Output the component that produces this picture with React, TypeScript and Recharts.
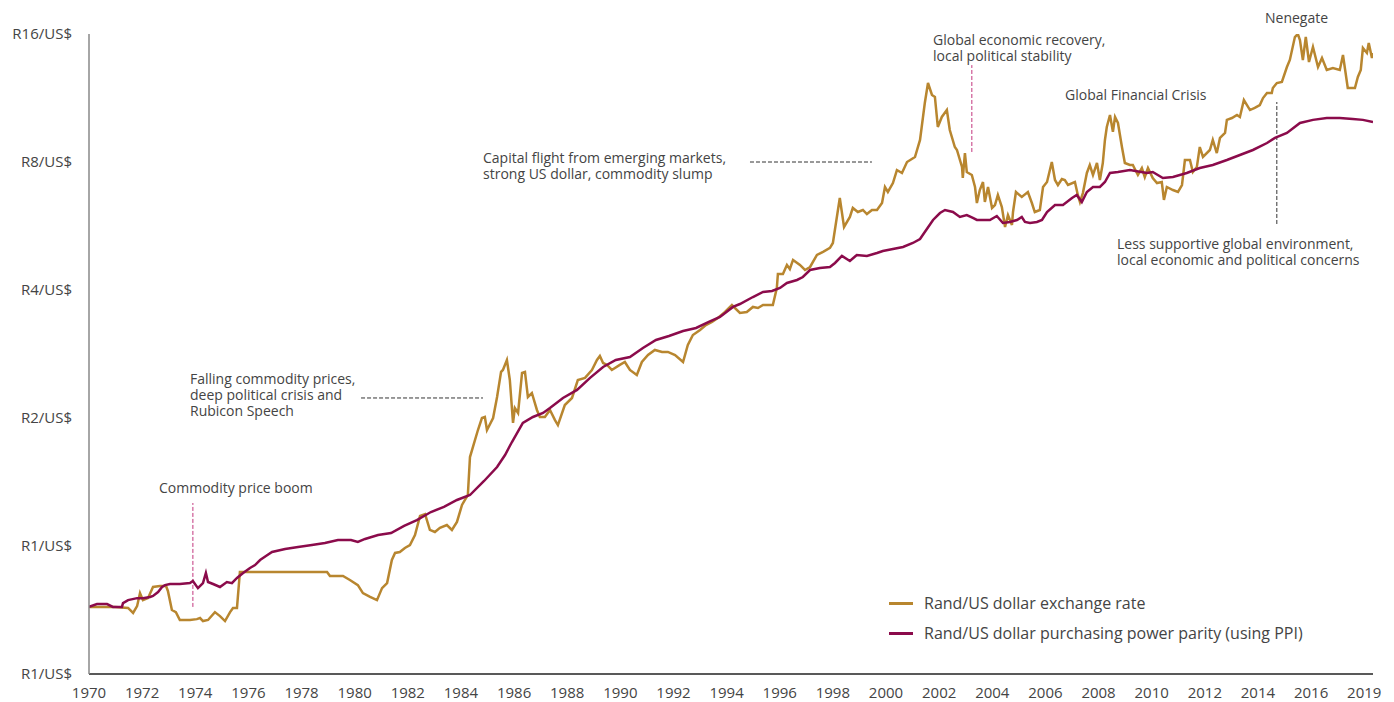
import { Legend, Line, LineChart, ReferenceLine, XAxis, YAxis } from 'recharts'

// [decimal year, rand per US dollar]
const exchangeRate: [number, number][] = [
  [1970.0, 0.719], [1970.41, 0.719], [1970.98, 0.719], [1971.47, 0.715], [1971.66, 0.696], [1971.81, 0.722],
  [1971.92, 0.775], [1972.03, 0.746], [1972.22, 0.754], [1972.41, 0.801], [1972.67, 0.805], [1972.9, 0.805],
  [1972.97, 0.784], [1973.12, 0.707], [1973.27, 0.699], [1973.42, 0.67], [1973.8, 0.67], [1974.06, 0.673],
  [1974.18, 0.677], [1974.29, 0.666], [1974.48, 0.67], [1974.74, 0.699], [1974.93, 0.684], [1975.12, 0.666],
  [1975.31, 0.699], [1975.42, 0.715], [1975.57, 0.715], [1975.68, 0.869], [1976.81, 0.869], [1977.94, 0.869],
  [1978.96, 0.869], [1979.07, 0.85], [1979.56, 0.85], [1979.82, 0.832], [1980.12, 0.809], [1980.31, 0.775],
  [1980.58, 0.759], [1980.84, 0.746], [1981.03, 0.796], [1981.22, 0.818], [1981.4, 0.927], [1981.52, 0.963],
  [1981.7, 0.968], [1981.89, 0.989], [1982.08, 1.005], [1982.27, 1.061], [1982.46, 1.177], [1982.65, 1.189],
  [1982.83, 1.091], [1983.02, 1.079], [1983.21, 1.103], [1983.47, 1.12], [1983.66, 1.091], [1983.85, 1.139],
  [1984.04, 1.249], [1984.15, 1.283], [1984.26, 1.318], [1984.34, 1.619], [1984.45, 1.709], [1984.64, 1.874],
  [1984.79, 2.0], [1984.9, 2.011], [1984.98, 1.874], [1985.21, 2.0], [1985.36, 2.241], [1985.51, 2.567],
  [1985.58, 2.594], [1985.73, 2.738], [1985.84, 2.457], [1985.96, 1.947], [1986.03, 2.111], [1986.15, 2.055],
  [1986.3, 2.553], [1986.41, 2.567], [1986.52, 2.241], [1986.67, 2.29], [1986.86, 2.089], [1986.97, 2.011],
  [1987.16, 2.011], [1987.35, 2.089], [1987.54, 1.978], [1987.65, 1.925], [1987.91, 2.146], [1988.18, 2.229],
  [1988.4, 2.457], [1988.67, 2.485], [1988.93, 2.594], [1989.12, 2.738], [1989.23, 2.799], [1989.35, 2.694],
  [1989.5, 2.666], [1989.68, 2.594], [1989.98, 2.666], [1990.17, 2.709], [1990.36, 2.594], [1990.62, 2.525],
  [1990.81, 2.709], [1991.04, 2.813], [1991.3, 2.891], [1991.57, 2.86], [1991.79, 2.86], [1992.06, 2.813],
  [1992.36, 2.709], [1992.54, 2.97], [1992.73, 3.135], [1993.0, 3.221], [1993.22, 3.309], [1993.45, 3.364],
  [1993.67, 3.437], [1993.94, 3.551], [1994.2, 3.688], [1994.5, 3.532], [1994.76, 3.551], [1994.99, 3.649],
  [1995.18, 3.628], [1995.37, 3.688], [1995.74, 3.688], [1995.89, 4.044], [1995.93, 4.362], [1996.12, 4.362],
  [1996.27, 4.581], [1996.38, 4.482], [1996.5, 4.708], [1996.76, 4.581], [1996.95, 4.458], [1997.14, 4.531],
  [1997.4, 4.836], [1997.63, 4.919], [1997.89, 5.023], [1998.0, 5.16], [1998.15, 5.94], [1998.26, 6.584],
  [1998.42, 5.627], [1998.64, 5.94], [1998.75, 6.237], [1998.94, 6.102], [1999.13, 6.169], [1999.28, 6.036],
  [1999.47, 6.169], [1999.66, 6.169], [1999.85, 6.407], [1999.96, 6.987], [2000.07, 6.801], [2000.26, 7.14],
  [2000.41, 7.66], [2000.6, 7.539], [2000.79, 8.0], [2001.09, 8.22], [2001.28, 9.014], [2001.46, 11.01],
  [2001.58, 12.27], [2001.73, 11.5], [2001.84, 11.38], [2001.95, 9.671], [2002.1, 10.21], [2002.29, 10.6],
  [2002.4, 9.514], [2002.59, 8.676], [2002.67, 8.538], [2002.86, 7.786], [2002.89, 7.336], [2002.97, 8.399],
  [2003.04, 7.579], [2003.23, 7.457], [2003.35, 6.987], [2003.42, 6.407], [2003.53, 6.874], [2003.65, 7.179],
  [2003.72, 6.442], [2003.84, 6.987], [2003.99, 6.237], [2004.1, 6.338], [2004.21, 6.692], [2004.36, 6.27],
  [2004.48, 5.627], [2004.59, 6.003], [2004.74, 5.688], [2004.78, 6.102], [2004.89, 6.801], [2005.11, 6.621],
  [2005.34, 6.801], [2005.49, 6.407], [2005.6, 6.102], [2005.79, 6.169], [2005.91, 6.987], [2006.06, 7.179],
  [2006.24, 8.0], [2006.36, 7.258], [2006.47, 7.063], [2006.62, 7.298], [2006.73, 7.258], [2006.85, 7.063],
  [2007.11, 7.179], [2007.22, 6.692], [2007.3, 6.442], [2007.41, 6.761], [2007.56, 7.539], [2007.67, 7.87],
  [2007.79, 7.457], [2007.94, 7.957], [2008.05, 7.258], [2008.16, 7.957], [2008.24, 9.014],
  [2008.31, 9.671], [2008.43, 10.32], [2008.54, 9.416], [2008.62, 10.21], [2008.73, 9.884],
  [2008.88, 8.676], [2008.99, 7.957], [2009.18, 7.87], [2009.29, 7.87], [2009.48, 7.457], [2009.63, 7.744],
  [2009.74, 7.376], [2009.86, 7.744], [2010.04, 7.336], [2010.2, 7.14], [2010.38, 7.179], [2010.46, 6.513],
  [2010.57, 6.987], [2010.8, 6.874], [2010.99, 6.801], [2011.14, 7.063], [2011.25, 8.087], [2011.44, 8.087],
  [2011.55, 7.579], [2011.7, 7.786], [2011.81, 8.676], [2011.93, 8.22], [2012.19, 8.538], [2012.3, 9.014],
  [2012.45, 8.399], [2012.57, 9.113], [2012.76, 9.36], [2012.83, 10.05], [2013.02, 10.15], [2013.21, 10.32],
  [2013.32, 10.21], [2013.47, 11.19], [2013.7, 10.6], [2013.88, 10.72], [2014.07, 10.89], [2014.19, 11.31],
  [2014.34, 11.63], [2014.52, 11.63], [2014.56, 11.94], [2014.71, 12.27], [2014.9, 12.34], [2015.09, 13.38],
  [2015.2, 13.9], [2015.39, 15.74], [2015.5, 16.0], [2015.58, 15.49], [2015.69, 13.9], [2015.8, 15.74],
  [2015.92, 13.75], [2016.07, 14.91], [2016.26, 13.38], [2016.41, 14.05], [2016.59, 13.17], [2016.82, 13.31],
  [2017.08, 13.17], [2017.2, 14.28], [2017.38, 11.94], [2017.65, 11.94], [2017.76, 12.68], [2017.87, 13.17],
  [2017.95, 14.83], [2018.1, 14.44], [2018.17, 15.24], [2018.29, 14.05], [2018.33, 14.44],
]

// [decimal year, PPP rand per US dollar (PPI based)]
const ppp: [number, number][] = [
  [1970.0, 0.719], [1970.3, 0.73], [1970.68, 0.73], [1970.9, 0.719], [1971.24, 0.719], [1971.28, 0.734],
  [1971.47, 0.746], [1971.81, 0.754], [1972.03, 0.754], [1972.3, 0.759], [1972.41, 0.763], [1972.6, 0.779],
  [1972.75, 0.801], [1972.86, 0.809], [1973.05, 0.814], [1973.42, 0.814], [1973.8, 0.818], [1973.91, 0.827],
  [1974.1, 0.796], [1974.29, 0.818], [1974.4, 0.864], [1974.48, 0.823], [1974.67, 0.814], [1974.93, 0.801],
  [1975.19, 0.823], [1975.38, 0.818], [1975.57, 0.841], [1975.8, 0.864], [1976.06, 0.888], [1976.25, 0.902],
  [1976.44, 0.927], [1976.66, 0.947], [1976.89, 0.968], [1977.38, 0.984], [1977.87, 0.995], [1978.39, 1.005],
  [1978.88, 1.016], [1979.37, 1.033], [1979.86, 1.033], [1980.12, 1.022], [1980.39, 1.039], [1980.88, 1.061],
  [1981.37, 1.073], [1981.86, 1.115], [1982.34, 1.151], [1982.87, 1.202], [1983.36, 1.236], [1983.85, 1.283],
  [1984.34, 1.318], [1984.87, 1.422], [1985.36, 1.534], [1985.66, 1.637], [1985.92, 1.756], [1986.33, 1.947],
  [1986.71, 2.011], [1987.09, 2.055], [1987.35, 2.111], [1987.84, 2.229], [1988.37, 2.328], [1988.86, 2.485],
  [1989.35, 2.636], [1989.83, 2.738], [1990.36, 2.783], [1990.85, 2.922], [1991.34, 3.051], [1991.83, 3.118],
  [1992.36, 3.204], [1992.85, 3.256], [1993.33, 3.364], [1993.75, 3.456], [1994.24, 3.649], [1994.5, 3.708],
  [1994.99, 3.851], [1995.37, 3.957], [1995.71, 3.978], [1996.01, 4.044], [1996.27, 4.155], [1996.65, 4.223],
  [1996.87, 4.292], [1997.14, 4.458], [1997.51, 4.507], [1997.89, 4.531], [1998.08, 4.631], [1998.34, 4.81],
  [1998.64, 4.681], [1998.9, 4.836], [1999.28, 4.81], [1999.66, 4.888], [1999.88, 4.942], [2000.26, 4.996],
  [2000.64, 5.05], [2001.01, 5.16], [2001.28, 5.273], [2001.46, 5.477], [2001.77, 5.844], [2002.03, 6.068],
  [2002.22, 6.169], [2002.52, 6.102], [2002.78, 5.94], [2003.04, 6.003], [2003.27, 5.908], [2003.42, 5.844],
  [2003.91, 5.844], [2004.17, 5.972], [2004.4, 5.75], [2004.66, 5.781], [2004.93, 5.844], [2005.11, 5.94],
  [2005.23, 5.781], [2005.42, 5.75], [2005.68, 5.781], [2005.87, 5.844], [2006.06, 6.102], [2006.36, 6.338],
  [2006.66, 6.338], [2007.0, 6.584], [2007.18, 6.692], [2007.37, 6.442], [2007.56, 6.801], [2007.79, 6.987],
  [2008.05, 6.987], [2008.24, 7.179], [2008.43, 7.539], [2008.73, 7.579], [2009.18, 7.66], [2009.82, 7.539],
  [2010.04, 7.579], [2010.42, 7.336], [2010.8, 7.376], [2011.32, 7.539], [2011.81, 7.744], [2012.3, 7.87],
  [2012.83, 8.087], [2013.32, 8.309], [2013.81, 8.538], [2014.34, 8.867], [2014.64, 9.113], [2015.09, 9.36],
  [2015.58, 9.884], [2016.07, 10.05], [2016.59, 10.15], [2017.08, 10.15], [2017.57, 10.1], [2017.95, 10.05],
  [2018.33, 9.938],
]

const xTicks = [1970, 1972, 1974, 1976, 1978, 1980, 1982, 1984, 1986, 1988, 1990, 1992, 1994, 1996, 1998, 2000, 2002, 2004, 2006, 2008, 2010, 2012, 2014, 2016, 2018]
const xTickLabels = ['1970', '1972', '1974', '1976', '1978', '1980', '1982', '1984', '1986', '1988', '1990', '1992', '1994', '1996', '1998', '2000', '2002', '2004', '2006', '2008', '2010', '2012', '2014', '2016', '2019']
const yTicks = [0.5, 1, 2, 4, 8, 16]
const yTickLabels = ['R1/US$', 'R1/US$', 'R2/US$', 'R4/US$', 'R8/US$', 'R16/US$']

const GOLD = '#b8862f'
const MAROON = '#8b0b4b'
const PINK = '#c2357d'
const TEXT = '#444'
const FONT = "'Open Sans', sans-serif"

// dashed guide lines in data space
const guides = [
  { from: [1973.91, 0.719], to: [1973.91, 1.262], color: PINK },
  { from: [1980.24, 2.229], to: [1984.83, 2.229], color: '#333' },
  { from: [1994.88, 8.0], to: [1999.47, 8.0], color: '#333' },
  { from: [2003.23, 8.446], to: [2003.23, 13.52], color: PINK },
  { from: [2014.71, 5.719], to: [2014.71, 11.07], color: '#333' },
]

const notes = [
  { lines: ['Commodity price boom'], left: 159, top: 480 },
  { lines: ['Falling commodity prices,', 'deep political crisis and', 'Rubicon Speech'], left: 190, top: 371 },
  { lines: ['Capital flight from emerging markets,', 'strong US dollar, commodity slump'], left: 483, top: 150 },
  { lines: ['Global economic recovery,', 'local political stability'], left: 933, top: 32 },
  { lines: ['Global Financial Crisis'], left: 1065, top: 87 },
  { lines: ['Nenegate'], left: 1265, top: 10 },
  { lines: ['Less supportive global environment,', 'local economic and political concerns'], left: 1117, top: 236 },
]

const toPoints = (rows: [number, number][]) => rows.map(([year, value]) => ({ year, value }))

function LegendList({ payload }: any) {
  return (
    <div style={{ fontFamily: FONT, fontSize: 16, color: TEXT }}>
      {(payload ?? []).map((entry: any) => (
        <div key={entry.value} style={{ display: 'flex', alignItems: 'center', height: 30 }}>
          <span style={{ display: 'inline-block', width: 24, height: 3, background: entry.color, marginRight: 11 }} />
          {entry.value}
        </div>
      ))}
    </div>
  )
}

export default function App() {
  return (
    <div style={{ position: 'absolute', left: 0, top: 0, width: 1394, height: 702, background: '#fff' }}>
      <LineChart width={1394} height={702} margin={{ top: 34, right: 21, bottom: 0, left: 0 }}>
        <XAxis
          type="number"
          dataKey="year"
          domain={[1970, 2018.33]}
          ticks={xTicks}
          tickFormatter={(v: number) => xTickLabels[xTicks.indexOf(v)] ?? ''}
          tickLine={false}
          tickMargin={7}
          height={28}
          stroke="#222"
          strokeWidth={1.5}
          tick={{ fill: TEXT, fontSize: 15, fontFamily: FONT }}
          allowDataOverflow
        />
        <YAxis
          type="number"
          scale="log"
          domain={[0.5, 16]}
          ticks={yTicks}
          tickFormatter={(v: number) => yTickLabels[yTicks.indexOf(v)] ?? ''}
          tickLine={false}
          tickMargin={11}
          width={89}
          stroke="#888"
          strokeWidth={1.5}
          tick={{ fill: TEXT, fontSize: 15, fontFamily: FONT }}
          allowDataOverflow
        />
        {guides.map((g, i) => (
          <ReferenceLine
            key={i}
            segment={[{ x: g.from[0], y: g.from[1] }, { x: g.to[0], y: g.to[1] }]}
            stroke={g.color}
            strokeWidth={1}
            strokeDasharray="4 2"
          />
        ))}
        <Line
          data={toPoints(exchangeRate)}
          dataKey="value"
          name="Rand/US dollar exchange rate"
          stroke={GOLD}
          strokeWidth={2.5}
          dot={false}
          isAnimationActive={false}
        />
        <Line
          data={toPoints(ppp)}
          dataKey="value"
          name="Rand/US dollar purchasing power parity (using PPI)"
          stroke={MAROON}
          strokeWidth={2.5}
          dot={false}
          isAnimationActive={false}
        />
        <Legend
          layout="vertical"
          align="center"
          verticalAlign="middle"
          content={<LegendList />}
          wrapperStyle={{ left: 889, top: 588, width: 480, height: 60 }}
        />
      </LineChart>
      {notes.map((n) => (
        <div
          key={n.lines[0]}
          style={{
            position: 'absolute',
            left: n.left,
            top: n.top,
            fontFamily: FONT,
            fontSize: 14,
            lineHeight: '16px',
            color: TEXT,
            whiteSpace: 'nowrap',
          }}
        >
          {n.lines.map((l) => (
            <div key={l}>{l}</div>
          ))}
        </div>
      ))}
    </div>
  )
}
